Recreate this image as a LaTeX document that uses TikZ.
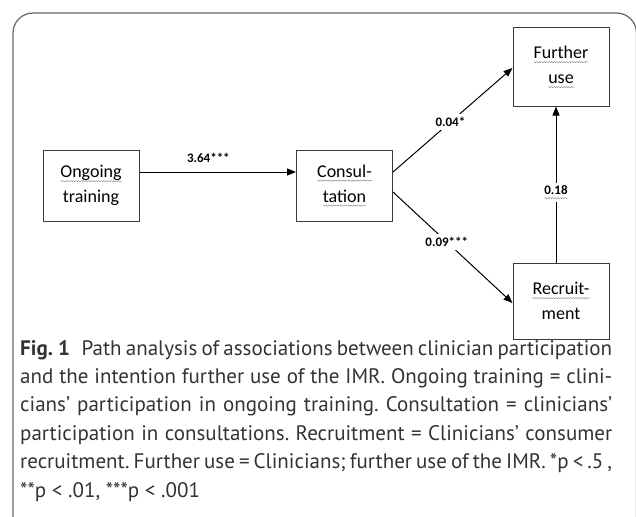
\documentclass[tikz,border=0pt]{standalone}
\usepackage{fontspec}
\setmainfont{Carlito}
\newfontfamily\capfont{PT Sans}
\usetikzlibrary{positioning, arrows.meta, decorations.pathmorphing}
\definecolor{boxline}{HTML}{3A3A3A}
\definecolor{captext}{HTML}{333333}
% wavy spell-check underline
\newcommand\spell[1]{\tikz[baseline=(w.base)]{\node[inner sep=0pt, outer sep=0pt, minimum width=0pt, minimum height=0pt, draw=none, fill=none, anchor=base] (w) at (0,0) {#1};
  \draw[-, gray, line width=0.4pt, decorate, decoration={snake, amplitude=0.6pt, segment length=2.5pt}] ([yshift=-3.5pt]w.base west) -- ([yshift=-3.5pt]w.base east);}}
\tikzset{
x=1pt, y=-1pt, % one unit is one pixel of the figure, y grows downwards
>={Triangle[length=9pt, width=7pt]}, % filled arrow heads
box/.style={draw=boxline, line width=1pt, minimum width=96pt, minimum height=71pt, align=center, font=\fontsize{18}{25}\selectfont}, % the variables
tall/.style={minimum height=78pt},
link/.style={->, line width=1pt, draw=black},
coef/.style={font=\bfseries\fontsize{13}{15}\selectfont, fill=white, inner sep=3pt}, % path coefficients
panel/.style={draw=gray!80!black, line width=1.2pt, rounded corners=20pt},
}
\begin{document}
\begin{tikzpicture}
    \useasboundingbox (0,0) rectangle (636,516);
    \draw[panel] (13,530) -- (13,13) -- (636.5,13) -- (636.5,530);

    \node[box] (ongoing) at (91,185.5) {\spell{Ongoing}\\training};
    \node[box, right of=ongoing, node distance=253.5pt] (consult) {\spell{Consul-}\\\spell{tation}};
    \node[box, tall, right of=consult, node distance=216.5pt, yshift=118.5pt] (further) {\spell{Further}\\\spell{use}};
    \node[box, tall, minimum height=76pt, below of=further, node distance=234pt] (recruit) {\spell{Recruit-}\\ment};

    \draw[link] ([yshift=13.5pt]ongoing.east) -- node[coef, above=6pt, pos=0.44] {3.64***} ([yshift=13.5pt]consult.west);
    \draw[link] ([yshift=13.5pt]consult.east) -- node[coef, pos=0.48] {0.04*} ([yshift=-1pt]further.west);
    \draw[link] ([yshift=-6.5pt]consult.east) -- node[coef, pos=0.45] {0.09***} ([yshift=-2pt]recruit.west);
    \draw[link] ([xshift=-5pt]recruit.north) -- node[coef, pos=0.45] {\spell{0.18}} ([xshift=-5pt]further.south);

    \node[anchor=base west, inner sep=0pt, text width=592pt, align=justify, text=captext, font=\capfont\fontsize{21}{28.4}\selectfont\frenchspacing] (caption) at (20,355)
    {\textbf{Fig.\hspace{0.25em}1}\hspace{0.55em}Path analysis of associations between clinician participation\linebreak
    and the intention further use of the IMR. Ongoing training = clini-\linebreak
    cians’ participation in ongoing training. Consultation = clinicians’\linebreak
    participation in consultations. Recruitment = Clinicians’ consumer\linebreak
    recruitment. Further use = Clinicians; further use of the IMR. *p < .5 ,\linebreak
    **p < .01, ***p < .001};
\end{tikzpicture}
\end{document}
